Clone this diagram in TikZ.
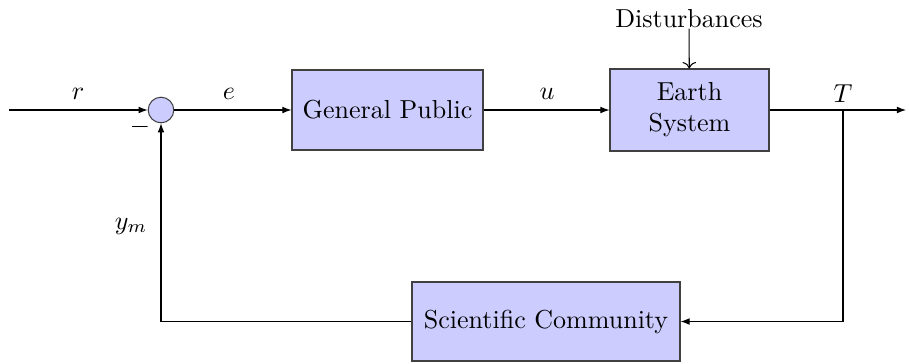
\documentclass[tikz,border=0pt]{standalone}
\usetikzlibrary{arrows.meta}
\begin{document}
\begin{tikzpicture}[x=0.3846pt,y=-0.3846pt,
  blockbox/.style={draw=black!75,fill=blue!20,align=center,inner sep=0pt},
  sumnode/.style={circle,draw=black!75,fill=blue!20,minimum size=25.6*0.3846pt,inner sep=0pt},
  sig/.style={-{Latex[length=3.5pt,width=2.6pt]}},
  lbl/.style={inner sep=0pt}]
\useasboundingbox (0,0) rectangle (909,363);
\coordinate (in) at (9,110);
\node[sumnode] (sum) at (161,110) {};
\node[blockbox,minimum width=191*0.3846pt,minimum height=80*0.3846pt] (gp) at (387.5,110) {General Public};
\node[blockbox,minimum width=159*0.3846pt,minimum height=82*0.3846pt] (es) at (689.5,110) {Earth\\System};
\node[lbl] (dist) at (689,19) {Disturbances};
\node[blockbox,minimum width=268*0.3846pt,minimum height=79*0.3846pt] (sc) at (546,321.5) {Scientific Community};
\coordinate (br) at (843,110);
\coordinate (out) at (906,110);
\coordinate (fbr) at (843,321.5);
\coordinate (fbl) at (161,321.5);
\draw[sig] (in) -- (sum);
\draw[sig] (sum) -- (gp);
\draw[sig] (gp) -- (es);
\draw[->] (dist) -- (es);
\draw[sig] (es) -- (out);
\draw[sig] (br) -- (fbr) -- (sc);
\draw[sig] (sc) -- (fbl) -- (sum);
\node[lbl] (rl) at (78,94) {$r$};
\node[lbl] (el) at (229,94) {$e$};
\node[lbl] (ul) at (547,94) {$u$};
\node[lbl] (tl) at (843,94) {$T$};
\node[lbl] (ym) at (131,226) {$y_m$};
\node[lbl] (minus) at (140,127) {$-$};
\end{tikzpicture}
\end{document}
